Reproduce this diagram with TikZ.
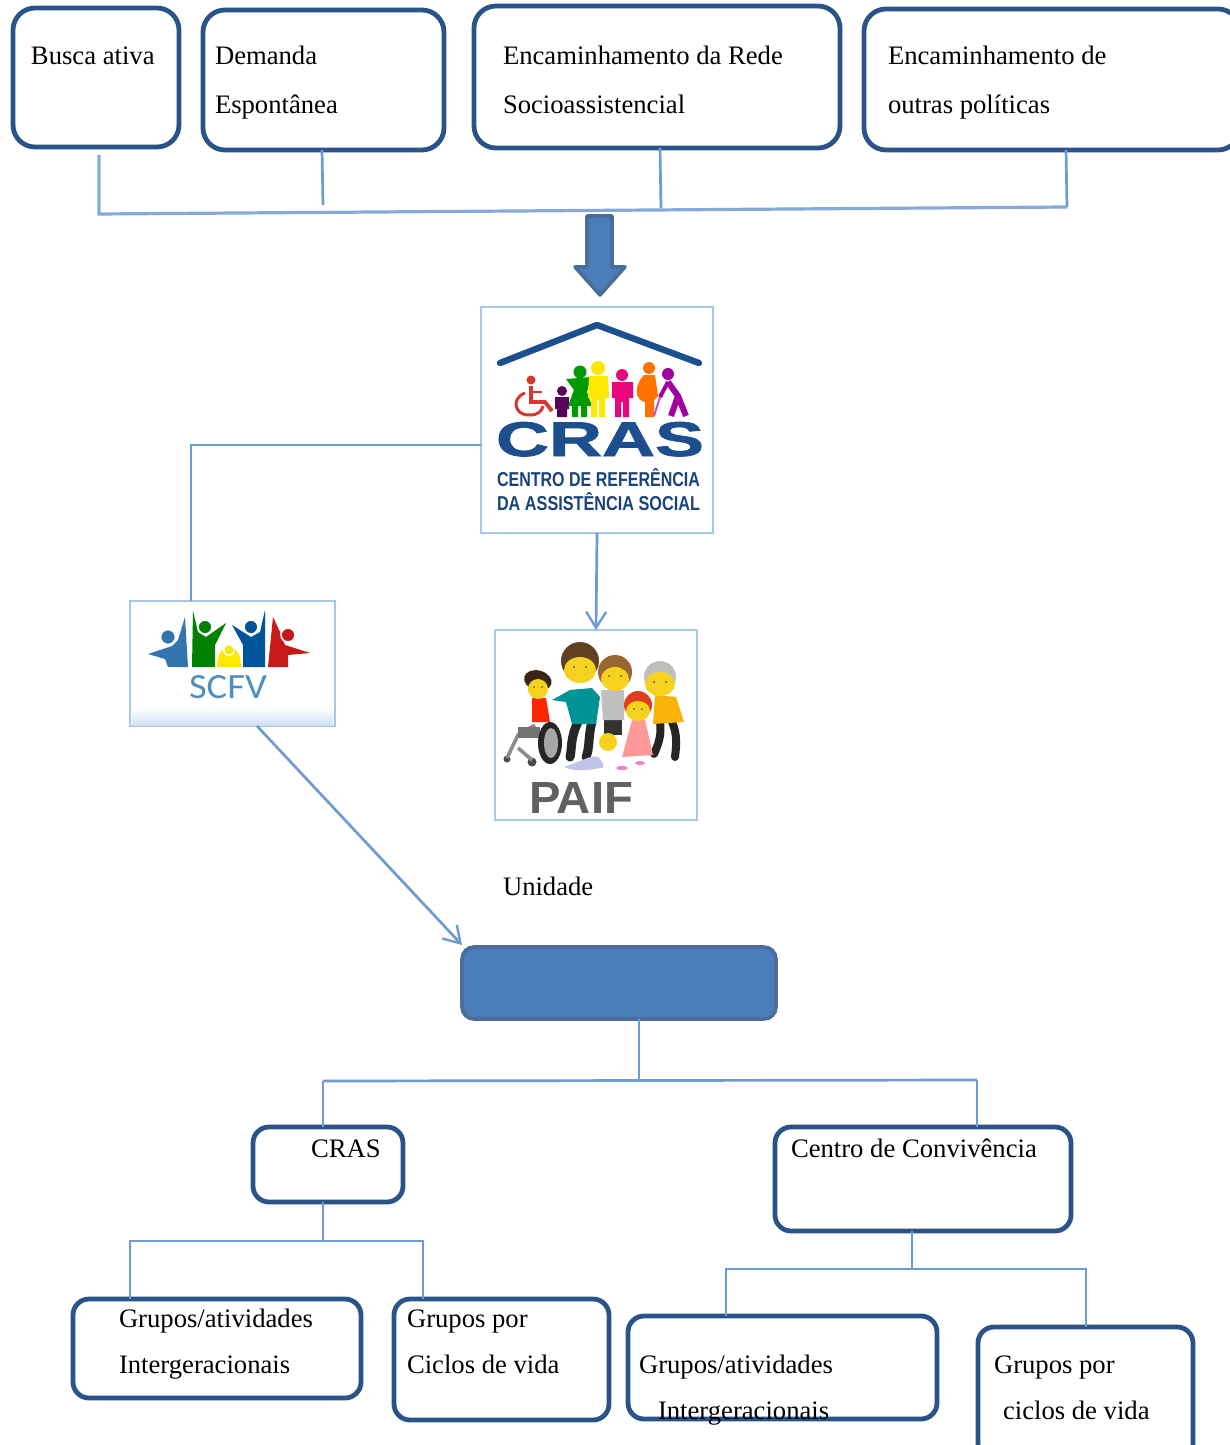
\documentclass[tikz,border=0pt]{standalone}
\usepackage{fontspec}
\usepackage{graphicx}
\setmainfont{Liberation Serif}
\newfontfamily\logofont{Liberation Sans}
\newfontfamily\heavyfont[UprightFont=* Bold,FakeBold=1.5]{Liberation Sans}
\newfontfamily\thinfont{Carlito}
\usetikzlibrary{arrows.meta,calc}
\definecolor{bdark}{HTML}{2A5487}
\definecolor{bfill}{HTML}{4A7EBB}
\definecolor{bline}{HTML}{6F9BD3}
\definecolor{bpic}{HTML}{A8C5EA}
\definecolor{crasblue}{HTML}{1D4F8F}
\definecolor{scfvtxt}{HTML}{4D8FC0}
\definecolor{smile}{HTML}{F6D21F}
\tikzset{
  rr/.style={draw=bdark,line width=2.4pt,rounded corners=11pt,fill=white,inner sep=0pt,outer sep=0pt},
  rrs/.style={rr,rounded corners=8pt},
  solidbox/.style={draw=bdark!85,line width=1.8pt,rounded corners=6pt,fill=bfill,inner sep=0pt,outer sep=0pt},
  picbox/.style={draw=bpic,line width=1.3pt,fill=white,inner sep=0pt,outer sep=0pt},
  conn/.style={draw=bline,line width=1.35pt,line join=miter},
  connar/.style={conn,-{Straight Barb[length=8pt,width=10pt,line width=1.2pt]}},
  lab/.style={anchor=base west,inner sep=0pt,outer sep=0pt,font=\fontsize{13.33}{16}\selectfont,text=black},
  logo/.style={inner sep=0pt,outer sep=0pt,anchor=base west}
}
\newcommand{\rbox}[6][rr]{\node[#1,minimum width={(#5-#3)*0.5pt},minimum height={(#6-#4)*0.5pt}] (#2) at ({(#3+#5)/2},{(#4+#6)/2}) {};}
\begin{document}
\begin{tikzpicture}[x=0.5pt,y=-0.5pt]
\useasboundingbox (0,0) rectangle (1230,1445);
\clip (0,0) rectangle (1230,1445);
\fill[white] (0,0) rectangle (1230,1445);
% top boxes
\rbox{b1}{13}{8}{179}{147}
\rbox{b2}{203}{10}{444}{150}
\rbox{b3}{474}{6}{840}{148}
\rbox{b4}{864}{9}{1240}{150}
\node[lab] (t1) at (31,65) {Busca ativa};
\node[lab] (t2a) at (215,65) {Demanda};
\node[lab] (t2b) at (215,113) {Espontânea};
\node[lab] (t3a) at (503,65) {Encaminhamento da Rede};
\node[lab] (t3b) at (503,113) {Socioassistencial};
\node[lab] (t4a) at (888,65) {Encaminhamento de};
\node[lab] (t4b) at (888,113) {outras políticas};
% top connectors
\coordinate (s1) at (99,155);
\coordinate (c1) at (99,214);
\coordinate (c2) at (323,205);
\coordinate (c3) at (661,208);
\coordinate (c4) at (1067,207);
\draw[conn,line width=1.6pt,draw=bline!85] (s1) -- (c1) -- (c4);
\draw[conn] (b2.south -| 322,0) -- (c2);
\draw[conn] (b3.south -| 660,0) -- (c3);
\draw[conn] (b4.south -| 1066,0) -- (c4);
% big arrow
\draw[draw=bdark!85,line width=1.8pt,fill=bfill,line join=round] (587,216) -- (612,216) -- (612,267) -- (625,267) -- (600,295) -- (575,267) -- (587,267) -- cycle;
% picture boxes
\rbox[picbox]{cras}{481}{307}{713}{533}
\rbox[picbox]{scfv}{130}{601}{335}{726}
\rbox[picbox]{paif}{495}{630}{697}{820}
% CRAS logo
\draw[crasblue,line width=3.2pt,line cap=round,line join=round] (500,363) -- (597,325) -- (699,363);
 % wheelchair
 \definecolor{wred}{HTML}{D5382C}
 \fill[wred] (531,380) circle (4.5);
 \draw[wred,line width=1.9pt] (531,386) -- (531,402) -- (545,402) -- (552,411);
 \draw[wred,line width=1.5pt] (525,393) .. controls (511,398) and (514,416) .. (530,415) .. controls (538,415) and (542,411) .. (543,406);
 \draw[wred,line width=1.4pt] (531,392) -- (542,392);
 % child
 \fill[violet!70!black] (562,391) circle (5);
 \fill[violet!70!black] (555,397) rectangle (569,409) (557,409) rectangle (567,417);
 % green woman
 \fill[green!60!black] (580,372) circle (6.5);
 \fill[green!60!black] (566,379) -- (591,377) -- (587,392) -- (592,406) -- (587,406) -- (587,417) -- (581,417) -- (581,406) -- (578,406) -- (578,417) -- (572,417) -- (572,406) -- (568,406) -- (574,390) -- cycle;
 % yellow
 \fill[yellow!90!orange] (598,368) circle (7);
 \fill[yellow!90!orange] (589,376) -- (608,376) -- (609,398) -- (605,398) -- (605,417) -- (599,417) -- (599,400) -- (597,400) -- (597,417) -- (591,417) -- (591,398) -- (588,398) -- cycle;
 % pink
 \fill[magenta!85!red] (622,375) circle (6);
 \fill[magenta!85!red] (612,382) -- (633,382) -- (633,398) -- (629,398) -- (629,417) -- (623,417) -- (623,402) -- (621,402) -- (621,417) -- (615,417) -- (615,398) -- (612,398) -- cycle;
 % orange
 \fill[orange!90!red] (649,368) circle (6);
 \fill[orange!90!red] (644,375) -- (655,375) -- (658,396) -- (654,400) -- (654,417) -- (645,417) -- (645,402) .. controls (634,400) and (634,385) .. cycle;
 % elder
 \fill[violet!75!magenta] (668,374) circle (6);
 \draw[violet!75!magenta,line width=3pt,line join=round] (668,382) -- (678,396) -- (686,416) (678,396) -- (671,416);
 \draw[violet!75!magenta,line width=2pt] (668,382) -- (660,397);
 \draw[violet!60!magenta!70,line width=1pt] (660,397) -- (654,416);
\node[logo,text=crasblue] (crast) at (496,456) {\resizebox{104pt}{17pt}{\heavyfont CRAS}};
\node[logo,text=crasblue!85!black] (crasa) at (497,486) {\resizebox{101.5pt}{9pt}{\logofont\bfseries CENTRO DE REFERÊNCIA}};
\node[logo,text=crasblue!85!black] (crasb) at (497,510) {\resizebox{101.5pt}{9pt}{\logofont\bfseries DA ASSISTÊNCIA SOCIAL}};
% SCFV logo
\shade[top color=white,bottom color=bpic!55,draw=none] (132,708) rectangle (333,725);
\fill[cyan!60!blue!80!black] (185,617) -- (188,667) -- (168,667) -- (165,659) -- (148,654) -- (172,646) -- (178,640) -- cycle;
\fill[cyan!60!blue!80!black,draw=white,line width=.8pt] (168,637) circle (7.5);
\fill[green!50!black] (193,611) -- (198,632) -- (206,637) -- (226,623) -- (215,645) -- (215,667) -- (192,667) -- cycle;
\fill[green!50!black,draw=white,line width=.8pt] (205,627) circle (7);
\fill[yellow!90!orange] (217,667) .. controls (217,640) and (241,640) .. (241,667) -- cycle;
\fill[yellow!90!orange,draw=white,line width=.7pt] (229,650) circle (5.5);
\fill[blue!45!cyan!60!black] (265,610) -- (265,667) -- (243,667) -- (243,645) -- (232,625) -- (251,637) -- (260,632) -- cycle;
\fill[blue!45!cyan!60!black,draw=white,line width=.8pt] (251,627) circle (7);
\fill[red!75!black!90] (273,617) -- (280,632) -- (285,645) -- (310,653) -- (288,655) -- (288,667) -- (268,667) -- cycle;
\fill[red!75!black!90,draw=white,line width=.8pt] (288,635) circle (7);
\node[logo,text=scfvtxt] (scfvt) at (189,698) {\resizebox{39pt}{11.5pt}{\thinfont SCFV}};
% PAIF logo
\fill[black!70] (507,759) circle (3.5) (532,762) circle (4.5);
\draw[black!45,line width=1.8pt] (507,758) -- (518,735) -- (535,725) (518,748) -- (532,760);
\fill[black!55] (518,727) rectangle (540,738);
\fill[red!70!orange] (532,698) -- (546,698) -- (550,722) -- (532,722) -- cycle;
\fill[black!85] (550,743) ellipse (12 and 21);
\fill[black!35] (551,743) ellipse (7 and 15);
\fill[black!70!brown,rotate around={-15:(540,680)}] (538,681) ellipse (14 and 10);
\fill[smile] (538,689) circle (10);
% father
\draw[black!85,line width=4.5pt,line cap=round] (578,722) .. controls (570,738) and (572,750) .. (570,757);
\draw[black!85,line width=4.5pt,line cap=round] (592,722) .. controls (588,735) and (590,748) .. (586,757);
\fill[teal!85!cyan] (552,700) -- (570,690) -- (592,688) -- (600,697) -- (596,724) -- (572,724) -- (566,702) -- cycle;
\fill[black!50!brown] (580,661) circle (19);
\fill[smile] (580,670) ellipse (16 and 13);
% mother
\fill[black!80] (604,718) rectangle (622,735);
\fill[black!25!white] (601,690) -- (624,690) -- (624,720) -- (603,720) -- cycle;
\fill[brown!80!black] (615,672) circle (17);
\fill[smile] (615,679) ellipse (14 and 12);
% grandmother
\draw[black!85,line width=4pt,line cap=round] (660,722) .. controls (662,735) and (658,745) .. (654,754);
\draw[black!85,line width=4pt,line cap=round] (672,722) .. controls (678,735) and (676,748) .. (675,757);
\fill[orange!55!yellow!90!brown] (655,695) -- (676,697) -- (684,722) -- (653,724) -- cycle;
\fill[black!25] (660,677) circle (16);
\fill[smile] (660,684) ellipse (15 and 12);
% girl
\fill[pink!80!red] (632,720) -- (645,720) -- (653,755) -- (622,757) -- cycle;
\fill[red!50!brown] (638,705) circle (14);
\fill[smile] (638,711) ellipse (12 and 10);
\fill[magenta!50] (622,768) ellipse (6 and 2) (640,763) ellipse (5 and 2);
% baby
\fill[cyan!30!blue!25] (564,767) .. controls (585,760) and (590,755) .. (598,757) .. controls (604,762) and (606,770) .. (600,768) .. controls (590,770) and (575,772) .. (564,767) -- cycle;
\fill[smile] (608,742) circle (9);
% eyes
\fill[black!70] (574,667) circle (1) (586,667) circle (1) (609,676) circle (1) (621,676) circle (1) (654,682) circle (1) (666,682) circle (1) (534,687) circle (.8) (542,687) circle (.8) (634,709) circle (.8) (642,709) circle (.8);
\node[logo,text=black!62] (paift) at (529,813) {\resizebox{52pt}{15.5pt}{\logofont\bfseries PAIF}};
% CRAS/SCFV/PAIF connectors
\coordinate (j1) at (191,445);
\draw[conn] (cras.west |- j1) -- (j1) -- (j1 |- scfv.north);
\draw[connar] (cras.south) -- (paif.north);
% label and solid box
\node[lab] (unidade) at (503,895) {Unidade};
\rbox[solidbox]{uni}{462}{947}{776}{1019}
\coordinate (s2) at (257,726);
\draw[connar] (s2) -- (462,945);
% middle tree
\coordinate (j2) at (639,1080);
\coordinate (j2l) at (323,1081);
\coordinate (j2r) at (977,1080);
\draw[conn] (uni.south -| j2) -- (j2);
\draw[conn] (j2l) -- (j2r);
\rbox[rrs]{mcras}{253}{1127}{403}{1202}
\rbox[rrs]{mcen}{775}{1127}{1071}{1231}
\draw[conn] (j2l) -- (j2l |- mcras.north);
\draw[conn] (j2r) -- (j2r |- mcen.north);
\node[lab] (tcras) at (311,1157) {CRAS};
\node[lab] (tcen) at (791,1157) {Centro de Convivência};
% left tree
\coordinate (j3) at (323,1241);
\coordinate (j3l) at (130,1241);
\coordinate (j3r) at (423,1241);
\rbox[rrs]{g1}{73}{1299}{361}{1398}
\rbox[rrs]{g2}{394}{1299}{609}{1420}
\draw[conn] (mcras.south -| j3) -- (j3);
\draw[conn] (j3l |- g1.north) -- (j3l) -- (j3r) -- (j3r |- g2.north);
\node[lab] (tg1a) at (119,1327) {Grupos/atividades};
\node[lab] (tg1b) at (119,1373) {Intergeracionais};
\node[lab] (tg2a) at (407,1327) {Grupos por};
\node[lab] (tg2b) at (407,1373) {Ciclos de vida};
% right tree
\coordinate (j4) at (912,1269);
\coordinate (j4l) at (726,1269);
\coordinate (j4r) at (1086,1269);
\rbox[rrs]{g3}{628}{1316}{937}{1419}
\rbox[rrs]{g4}{978}{1327}{1193}{1460}
\draw[conn] (mcen.south -| j4) -- (j4);
\draw[conn] (j4l |- g3.north) -- (j4l) -- (j4r) -- (j4r |- g4.north);
\node[lab] (tg3a) at (639,1373) {Grupos/atividades};
\node[lab] (tg3b) at (658,1419) {Intergeracionais};
\node[lab] (tg4a) at (994,1373) {Grupos por};
\node[lab] (tg4b) at (1003,1419) {ciclos de vida};
\end{tikzpicture}
\end{document}
